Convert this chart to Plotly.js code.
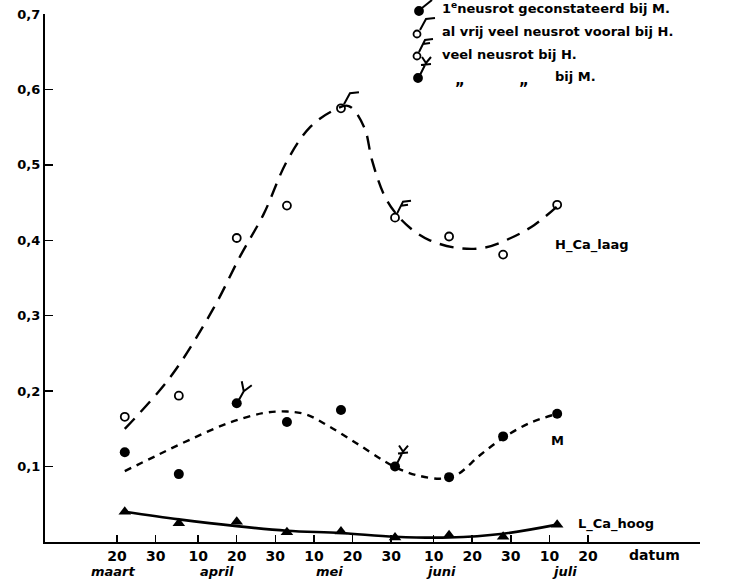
<!DOCTYPE html>
<html><head><meta charset="utf-8">
<script src="https://cdn.plot.ly/plotly-3.0.1.min.js"></script>
<style>html,body{margin:0;padding:0;background:#fff}</style>
</head><body>
<div id="chart" style="width:743px;height:588px"></div>
<script>
// sampling dates (observations)
const sampleDates = ["1959-03-22","1959-04-05","1959-04-20","1959-05-03","1959-05-17","1959-05-31","1959-06-14","1959-06-28","1959-07-12"];
// observed values
const hCaLaag = [0.166, 0.194, 0.403, 0.446, 0.575, 0.430, 0.405, 0.381, 0.447];
const mValues = [0.119, 0.090, 0.184, 0.159, 0.175, 0.100, 0.086, 0.140, 0.170];
const lCaHoog = [0.040, 0.025, 0.027, 0.013, 0.014, 0.006, 0.009, 0.007, 0.023];

// hand-drawn trend curves
const hCurveDates = ["1959-03-22","1959-04-03","1959-04-14","1959-04-21","1959-04-27","1959-05-03","1959-05-09","1959-05-15","1959-05-19","1959-05-23","1959-05-25","1959-05-28","1959-05-31","1959-06-04","1959-06-09","1959-06-16","1959-06-23","1959-06-30","1959-07-06","1959-07-12"];
const hCurveValues = [0.150, 0.220, 0.310, 0.380, 0.435, 0.505, 0.550, 0.572, 0.578, 0.550, 0.507, 0.462, 0.437, 0.416, 0.400, 0.390, 0.390, 0.403, 0.420, 0.445];
const mCurveDates = ["1959-03-22","1959-03-30","1959-04-08","1959-04-18","1959-04-27","1959-05-03","1959-05-08","1959-05-14","1959-05-21","1959-05-28","1959-06-01","1959-06-06","1959-06-12","1959-06-16","1959-06-22","1959-06-28","1959-07-05","1959-07-12"];
const mCurveValues = [0.094, 0.114, 0.136, 0.158, 0.171, 0.173, 0.169, 0.153, 0.131, 0.108, 0.097, 0.088, 0.084, 0.089, 0.115, 0.138, 0.158, 0.170];
const lCurveDates = sampleDates;
const lCurveValues = [0.040, 0.030, 0.021, 0.015, 0.012, 0.007, 0.006, 0.011, 0.023];

// axis ticks
const xTickVals = ["1959-03-20","1959-03-30","1959-04-10","1959-04-20","1959-04-30","1959-05-10","1959-05-20","1959-05-30","1959-06-10","1959-06-20","1959-06-30","1959-07-10","1959-07-20"];
const xTickText = ["20","30","10","20","30","10","20","30","10","20","30","10","20"];
const monthDates = ["1959-03-19","1959-04-15","1959-05-14","1959-06-12","1959-07-14"];
const monthNames = ["maart","april","mei","juni","juli"];
const yTickVals = [0.1,0.2,0.3,0.4,0.5,0.6,0.7];
const yTickText = ["0,1","0,2","0,3","0,4","0,5","0,6","0,7"];

const legendTexts = ["1<sup>e</sup>neusrot geconstateerd bij M.", "al vrij veel neusrot vooral bij H.", "veel neusrot bij H."];

const FONT = "DejaVu Sans, Arial, sans-serif";
const BLK = "#000";

const traces = [
  {x: hCurveDates, y: hCurveValues, mode: "lines", line: {color: BLK, width: 2.4, dash: "14px,9px", shape: "spline", smoothing: 1}, hoverinfo: "skip"},
  {x: mCurveDates, y: mCurveValues, mode: "lines", line: {color: BLK, width: 2.4, dash: "7px,6px", shape: "spline", smoothing: 1}, hoverinfo: "skip"},
  {x: lCurveDates, y: lCurveValues, mode: "lines", line: {color: BLK, width: 2.6, shape: "spline", smoothing: 1}, hoverinfo: "skip"},
  {x: sampleDates, y: hCaLaag, mode: "markers", marker: {symbol: "circle-open", size: 8, color: BLK, line: {width: 1.8, color: BLK}}},
  {x: sampleDates, y: mValues, mode: "markers", marker: {symbol: "circle", size: 10, color: BLK}},
  {x: sampleDates, y: lCaHoog, mode: "markers", marker: {symbol: "triangle-up", size: 11, color: BLK}}
];

// flag shapes (pixel offsets, y up) anchored to data points
function flag(xa, ya, path, xref, yref) {
  return {type: "path", xref: xref || "x", yref: yref || "y", xsizemode: "pixel", ysizemode: "pixel",
          xanchor: xa, yanchor: ya, path: path, line: {color: BLK, width: 2}};
}
function dot(xa, ya, filled, r, xref, yref) {
  return {type: "circle", xref: xref, yref: yref, xsizemode: "pixel", ysizemode: "pixel",
          xanchor: xa, yanchor: ya, x0: -r, x1: r, y0: -r, y1: r,
          line: {color: BLK, width: 1.8}, fillcolor: filled ? BLK : "rgba(0,0,0,0)"};
}
const PATH_Y = "M 2,3 L 7,12 M 5,22 L 7,12 L 15,18";
const PATH_HOOK = "M 3,4 L 9,15 L 18,16";
const PATH_F = "M 2,4 L 8,16 L 16,17 M 6,12 L 13,13";
const PATH_STAR = "M 2,3 L 8,15 M 4,21 L 8,15 L 13,21 M 3,13 L 13,14";
const PATH_STICK = "M 3,3 L 13,11";

const px = v => (v - 45) / 655;
const py = v => (542 - v) / 528;

const shapes = [
  flag(sampleDates[2], mValues[2], PATH_Y),
  flag(sampleDates[4], hCaLaag[4], PATH_HOOK),
  flag(sampleDates[5], hCaLaag[5], PATH_F),
  flag(sampleDates[5], mValues[5], PATH_STAR),
  // legend icons
  dot(px(419), py(11), true, 4, "paper", "paper"),
  flag(px(419), py(11), PATH_STICK, "paper", "paper"),
  dot(px(417), py(34), false, 3.5, "paper", "paper"),
  flag(px(417), py(34), PATH_HOOK, "paper", "paper"),
  dot(px(417), py(56), false, 3.5, "paper", "paper"),
  flag(px(417), py(56), PATH_F, "paper", "paper"),
  dot(px(418), py(78), true, 4, "paper", "paper"),
  flag(px(418), py(78), PATH_STAR, "paper", "paper")
];

const annFont = {family: FONT, size: 13, color: BLK, weight: "bold"};
const annotations = [];
legendTexts.forEach((t, i) => {
  annotations.push({xref: "paper", yref: "paper", x: px(440), y: py(8 + i * 23), xanchor: "left", yanchor: "middle", text: t, showarrow: false, font: annFont});
});
annotations.push({xref: "paper", yref: "paper", x: px(460), y: py(80), xanchor: "center", yanchor: "middle", text: "\u201E", showarrow: false, font: {family: FONT, size: 15, color: BLK, weight: "bold"}});
annotations.push({xref: "paper", yref: "paper", x: px(524), y: py(80), xanchor: "center", yanchor: "middle", text: "\u201E", showarrow: false, font: {family: FONT, size: 15, color: BLK, weight: "bold"}});
annotations.push({xref: "paper", yref: "paper", x: px(553), y: py(77), xanchor: "left", yanchor: "middle", text: "bij M.", showarrow: false, font: annFont});
// series labels
annotations.push({x: "1959-07-11", y: 0.394, xanchor: "left", yanchor: "middle", text: "H_Ca_laag", showarrow: false, font: annFont});
annotations.push({x: "1959-07-10", y: 0.135, xanchor: "left", yanchor: "middle", text: "M", showarrow: false, font: annFont});
annotations.push({x: "1959-07-17", y: 0.024, xanchor: "left", yanchor: "middle", text: "L_Ca_hoog", showarrow: false, font: annFont});
// axis words
annotations.push({x: "1959-07-30", xref: "x", yref: "paper", y: py(555), xanchor: "left", yanchor: "middle", text: "datum", showarrow: false, font: {family: FONT, size: 14, color: BLK, weight: "bold"}});
monthDates.forEach((d, i) => {
  annotations.push({x: d, xref: "x", yref: "paper", y: py(571), xanchor: "center", yanchor: "middle", text: "<i>" + monthNames[i] + "</i>", showarrow: false, font: {family: FONT, size: 13, color: BLK, weight: "bold"}});
});

const layout = {
  width: 743, height: 588,
  margin: {l: 45, r: 43, t: 14, b: 46, pad: 0},
  paper_bgcolor: "#fff", plot_bgcolor: "#fff",
  showlegend: false,
  font: {family: FONT, color: BLK},
  xaxis: {type: "date", range: ["1959-03-01 08:00", "1959-08-18"], tickmode: "array", tickvals: xTickVals, ticktext: xTickText,
          ticks: "inside", ticklen: 7, tickwidth: 1.5, tickcolor: BLK, showline: true, linewidth: 2.2, linecolor: BLK,
          showgrid: false, zeroline: false, tickfont: {family: FONT, size: 14, color: BLK, weight: "bold"}},
  yaxis: {range: [0, 0.7], tickmode: "array", tickvals: yTickVals, ticktext: yTickText,
          ticks: "inside", ticklen: 8, tickwidth: 1.5, tickcolor: BLK, showline: true, linewidth: 2.2, linecolor: BLK,
          showgrid: false, zeroline: false, tickfont: {family: FONT, size: 13, color: BLK, weight: "bold"}},
  shapes: shapes,
  annotations: annotations
};

Plotly.newPlot("chart", traces, layout, {staticPlot: true, displayModeBar: false});
</script>
</body></html>
